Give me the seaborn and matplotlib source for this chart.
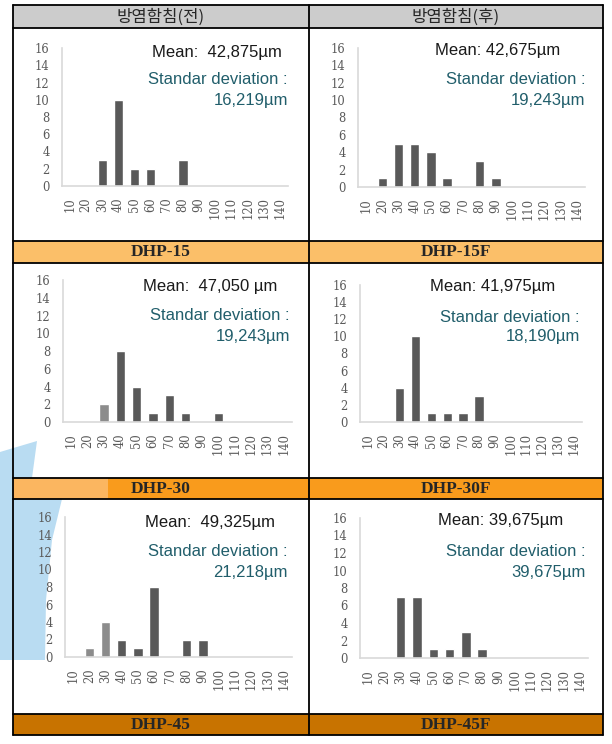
import matplotlib
matplotlib.use("Agg")
import matplotlib.pyplot as plt
import seaborn as sns

bins = ["10", "20", "30", "40", "50", "60", "70", "80", "90", "100", "110", "120", "130", "140"]

dhp15 = [0, 0, 3, 10, 2, 2, 0, 3, 0, 0, 0, 0, 0, 0]
dhp15f = [0, 1, 5, 5, 4, 1, 0, 3, 1, 0, 0, 0, 0, 0]
dhp30 = [0, 0, 2, 8, 4, 1, 3, 1, 0, 1, 0, 0, 0, 0]
dhp30f = [0, 0, 4, 10, 1, 1, 1, 3, 0, 0, 0, 0, 0, 0]
dhp45 = [0, 1, 4, 2, 1, 8, 0, 2, 2, 0, 0, 0, 0, 0]
dhp45f = [0, 0, 7, 7, 1, 1, 3, 1, 0, 0, 0, 0, 0, 0]

headers = ["방염함침(전)", "방염함침(후)"]
row_labels = [["DHP-15", "DHP-15F"], ["DHP-30", "DHP-30F"], ["DHP-45", "DHP-45F"]]
means = ["Mean:  42,875µm", "Mean: 42,675µm", "Mean:  47,050 µm",
         "Mean: 41,975µm", "Mean:  49,325µm", "Mean: 39,675µm"]
stds = ["16,219µm", "19,243µm", "19,243µm", "18,190µm", "21,218µm", "39,675µm"]

sns.set_style("white")
plt.rcParams["font.family"] = ["Liberation Sans", "DejaVu Sans"]

W, H = 612, 744
fig = plt.figure(figsize=(W / 100, H / 100), dpi=100)

bg = fig.add_axes([0, 0, 1, 1], zorder=0)
bg.set_xlim(0, W)
bg.set_ylim(H, 0)
bg.axis("off")

# watermark (light blue logo on the left)
wm = [(0, 452), (37, 441), (32, 478), (108, 478), (108, 499), (62, 499),
      (52, 540), (46, 600), (45, 660), (0, 660)]
bg.fill([p[0] for p in wm], [p[1] for p in wm], color="#b9dcf2", lw=0, zorder=0.5)

# table cells
xl, xm, xr = 13, 309, 603
bg.fill_between([xl, xr], 5, 28, color="#cccccc", lw=0, zorder=1)
row_colors = ["#fbbf69", "#f99b1c", "#c87300"]
row_y = [(241, 263), (478, 499), (714, 735)]
for (y0, y1), c in zip(row_y, row_colors):
    bg.fill_between([xl, xr], y0, y1, color=c, lw=0, zorder=1)
bg.fill_between([xl, 108], 478, 499, color="#fbb660", lw=0, zorder=1.1)

for y in [5, 28, 241, 263, 478, 499, 714, 735]:
    bg.plot([xl, xr], [y, y], color="black", lw=1.3, zorder=3)
for x in [xl, xm, xr]:
    bg.plot([x, x], [5, 735], color="black", lw=1.3, zorder=3)

centers = [(xl + xm) / 2, (xm + xr) / 2]
for cx, h in zip(centers, headers):
    bg.text(cx, 17, h, ha="center", va="center", fontsize=12,
            family=["Noto Sans CJK KR", "DejaVu Sans"], zorder=4)
for (y0, y1), labs in zip(row_y, row_labels):
    for cx, lab in zip(centers, labs):
        bg.text(cx, (y0 + y1) / 2 + 0.5, lab, ha="center", va="center", fontsize=12.5,
                fontweight="bold", family="Liberation Serif", zorder=4)

# chart boxes: left, y of zero, right, y of 16 (pixels)
boxes = [(62, 186, 288, 48), (358, 187, 585, 48),
         (63, 422, 292, 280), (360, 422, 582, 285),
         (65, 657, 292, 517), (360, 658, 588, 518)]
series = [dhp15, dhp15f, dhp30, dhp30f, dhp45, dhp45f]
light = {2: ["30"], 4: ["20", "30"]}

# text anchors: (mean right x, mean y, std right x, std y, value y)
texts = [(282, 52, 288, 80, 101), (560, 50, 585, 80, 100),
         (277, 287, 290, 316, 337), (555, 287, 580, 317, 337),
         (275, 523, 288, 552, 572), (563, 521, 586, 552, 572)]

for i, (box, vals) in enumerate(zip(boxes, series)):
    x0, yb, x1, yt = box
    ax = fig.add_axes([x0 / W, 1 - yb / H, (x1 - x0) / W, (yb - yt) / H], zorder=2)
    ax.patch.set_alpha(0)
    pal = {b: ("#8c8c8c" if b in light.get(i, []) else "#595959") for b in bins}
    sns.barplot(x=bins, y=vals, hue=bins, palette=pal, legend=False,
                width=0.58, saturation=1, ax=ax)
    ax.set_xlim(-0.5, len(bins) - 0.5)
    ax.set_ylim(0, 16)
    ax.set_yticks(range(0, 17, 2))
    ax.tick_params(axis="both", length=0, labelsize=8.3, labelcolor="#5a5a5a")
    ax.tick_params(axis="y", pad=9)
    ax.tick_params(axis="x", pad=8)
    for lab in ax.get_xticklabels():
        lab.set_rotation(90)
        lab.set_family("DejaVu Serif")
    for lab in ax.get_yticklabels():
        lab.set_family("DejaVu Serif")
    for s in ["top", "right"]:
        ax.spines[s].set_visible(False)
    for s in ["left", "bottom"]:
        ax.spines[s].set_color("#d9d9d9")
        ax.spines[s].set_linewidth(1.2)
    ax.set_xlabel("")
    ax.set_ylabel("")

    mx, my, sx, sy, vy = texts[i]
    bg.text(mx, my, means[i], ha="right", va="center", fontsize=12, color="#1a1a1a", zorder=4)
    bg.text(sx, sy, "Standar deviation :", ha="right", va="center", fontsize=12,
            color="#215e6b", zorder=4)
    bg.text(sx, vy, stds[i], ha="right", va="center", fontsize=12,
            color="#215e6b", zorder=4)

fig.savefig("out.png", dpi=100)
